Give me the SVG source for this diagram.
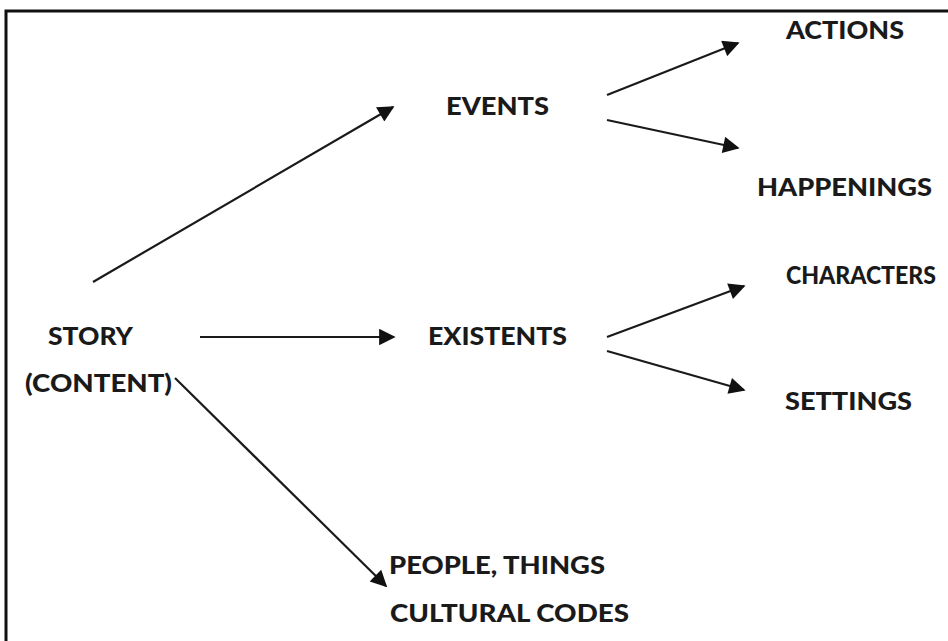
<svg xmlns="http://www.w3.org/2000/svg" width="948" height="641" viewBox="0 0 948 641">
<style>
  .t { font-family: Lato, "Open Sans", "Liberation Sans", sans-serif; font-weight: 900; font-size: 25px; fill: #1a1a1a; }
  .c { stroke: #1a1a1a; stroke-width: 2.2; fill: none; marker-end: url(#ah); }
</style>
<defs>
  <marker id="ah" viewBox="0 0 10 10" refX="9" refY="5" markerWidth="8.5" markerHeight="7.5" markerUnits="strokeWidth" orient="auto">
    <path d="M0,0 L10,5 L0,10 z" fill="#111"/>
  </marker>
</defs>
<rect width="948" height="641" fill="#fff"/>
<path d="M6,641 L6,11 L948,11" stroke="#111" stroke-width="3" fill="none"/>
<g id="connectors">
  <line class="c" x1="93" y1="282" x2="393" y2="107"/>
  <line class="c" x1="200" y1="337" x2="394" y2="337"/>
  <line class="c" x1="175" y1="378" x2="386" y2="586"/>
  <line class="c" x1="607" y1="95" x2="738" y2="43"/>
  <line class="c" x1="607" y1="120" x2="738" y2="148"/>
  <line class="c" x1="607" y1="337" x2="744" y2="286"/>
  <line class="c" x1="607" y1="351" x2="744" y2="390"/>
</g>
<g id="story"><text class="t" x="48" y="345" textLength="85" lengthAdjust="spacingAndGlyphs">STORY</text>
<text class="t" x="25" y="392" textLength="147" lengthAdjust="spacingAndGlyphs">(CONTENT)</text></g>
<g id="events"><text class="t" x="446" y="115" textLength="103" lengthAdjust="spacingAndGlyphs">EVENTS</text></g>
<g id="actions"><text class="t" x="786" y="39" textLength="118" lengthAdjust="spacingAndGlyphs">ACTIONS</text></g>
<g id="happenings"><text class="t" x="757" y="196" textLength="175" lengthAdjust="spacingAndGlyphs">HAPPENINGS</text></g>
<g id="existents"><text class="t" x="428" y="345" textLength="139" lengthAdjust="spacingAndGlyphs">EXISTENTS</text></g>
<g id="characters"><text class="t" x="786" y="284" textLength="150" lengthAdjust="spacingAndGlyphs">CHARACTERS</text></g>
<g id="settings"><text class="t" x="785" y="410" textLength="127" lengthAdjust="spacingAndGlyphs">SETTINGS</text></g>
<g id="people"><text class="t" x="389" y="574" textLength="216" lengthAdjust="spacingAndGlyphs">PEOPLE, THINGS</text>
<text class="t" x="390" y="622" textLength="239" lengthAdjust="spacingAndGlyphs">CULTURAL CODES</text></g>
</svg>
